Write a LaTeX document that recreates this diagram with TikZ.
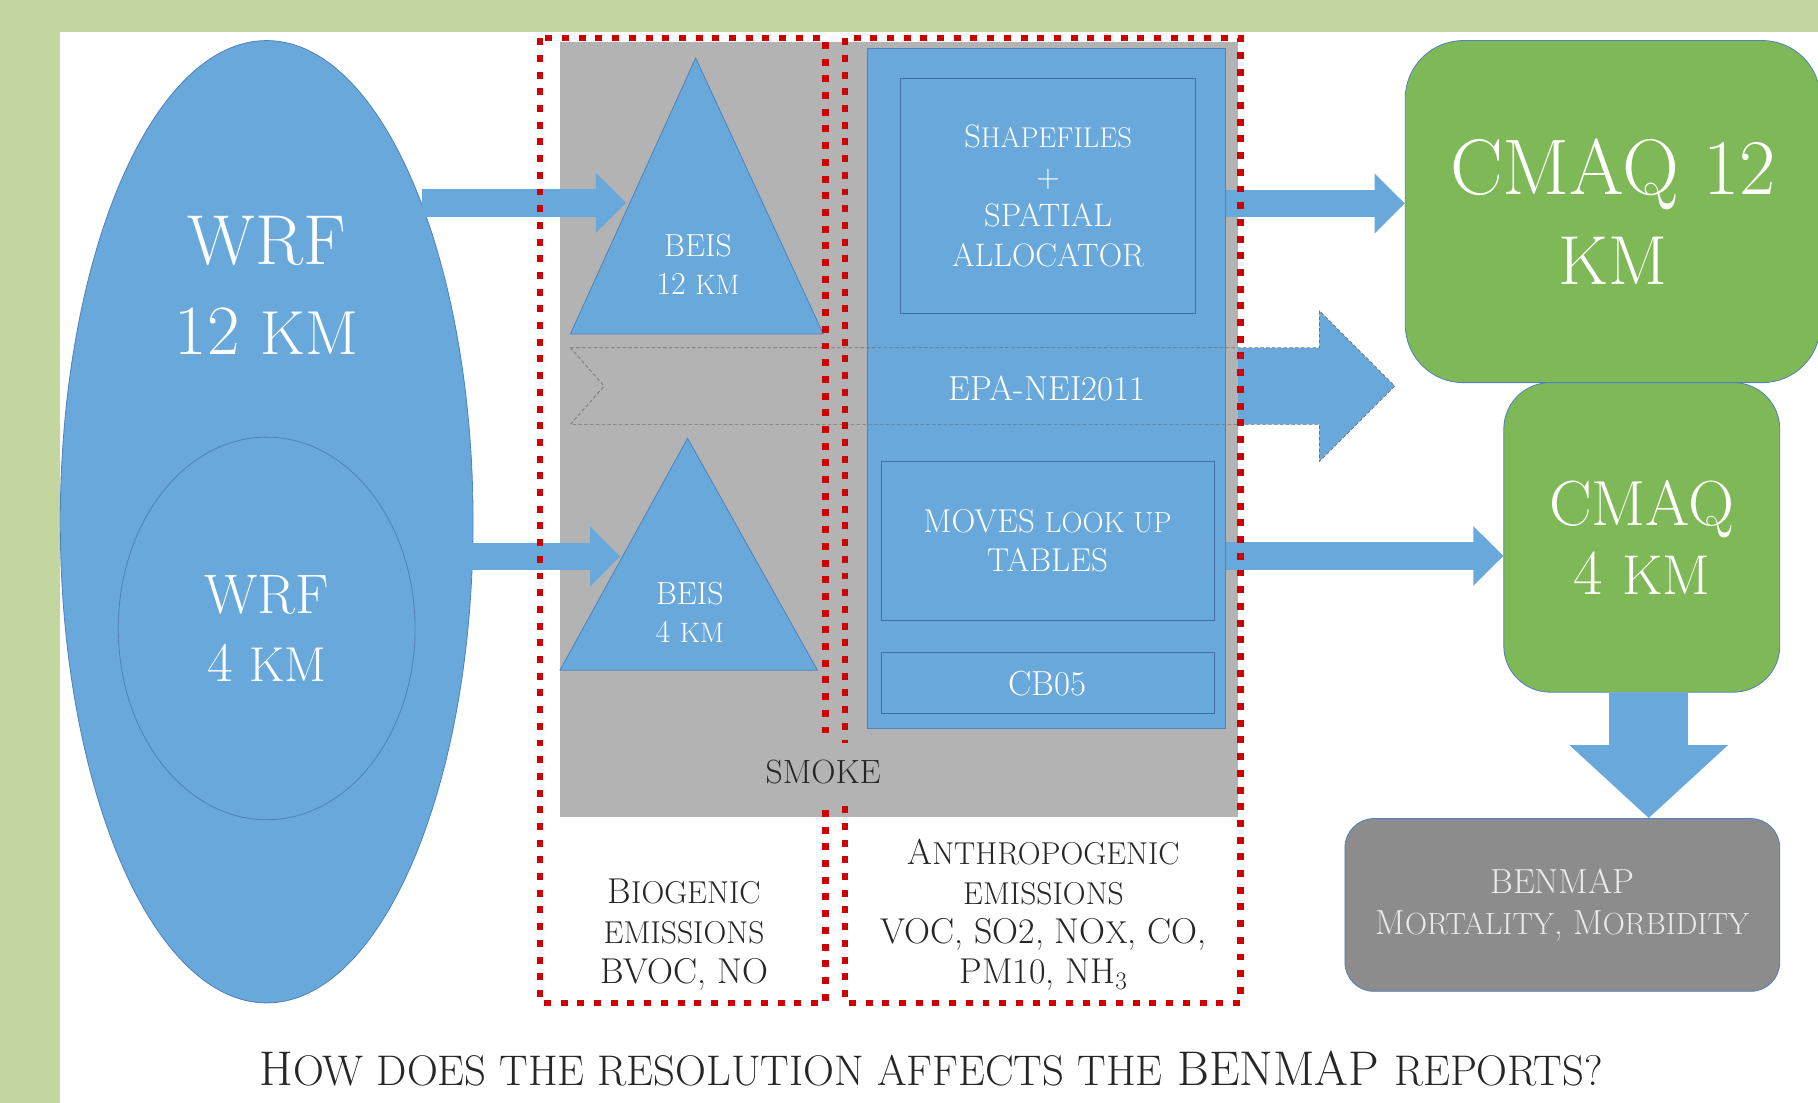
\documentclass[tikz,border=0pt]{standalone}
\usepackage{fontspec}
\usepackage{graphicx}
\usepackage{tikz}
\usetikzlibrary{arrows.meta, positioning, shapes.geometric, calc}
\definecolor{panelGreen}{HTML}{C4D6A0}
\definecolor{skyBlue}{HTML}{69A8DB}
\definecolor{edgeBlue}{HTML}{4F81BD}
\definecolor{cmaqGreen}{HTML}{7FB857}
\definecolor{smokeGrey}{HTML}{B3B3B3}
\definecolor{benGrey}{HTML}{8C8C8C}
\definecolor{dotRed}{HTML}{CC0000}
\newcommand{\lc}[1]{\scalebox{0.88}{\MakeUppercase{#1}}}
\newcommand{\epashape}{(492,300) -- (1138,300) -- (1138,268) -- (1203,333) -- (1138,398) -- (1138,366) -- (492,366) -- (521,333) -- cycle}

\begin{document}
\begin{tikzpicture}[x=1pt, y=-1pt,
    blk/.style={draw=edgeBlue, line width=0.7pt, fill=skyBlue},
    inbox/.style={blk, draw=edgeBlue!85!black, text=white, align=center, inner sep=0pt},
    cmaq/.style={draw=edgeBlue, line width=0.7pt, fill=cmaqGreen, text=white, align=center, inner sep=0pt},
    wtxt/.style={text=white, align=center},
    ktxt/.style={text=black!85, align=center},
    fat/.style={line width=24pt, skyBlue, -{Triangle[length=26pt, width=50pt]}},
    bigfat/.style={line width=68pt, skyBlue, -{Triangle[length=63pt, width=133pt]}},
    reddot/.style={draw=dotRed, line width=5.5pt, dash pattern=on 6pt off 8.4pt}
]
  \useasboundingbox (0,0) rectangle (1568,951);
  \fill[panelGreen] (0,0) rectangle (1568,951);
  \fill[white] (52,28) rectangle (1568,951);

  \fill[skyBlue] \epashape;
  \fill[smokeGrey] (483,36) rectangle (1068,705);

  \node[blk, ellipse, minimum width=356pt, minimum height=830pt] (wrf12) at (230,450) {};
  \node[wtxt, font=\fontsize{61}{77}\selectfont] (wrf12txt) at (230,246) {WRF\\12 \lc{km}};
  \node[blk, ellipse, minimum width=256pt, minimum height=330pt, wtxt,
        font=\fontsize{48}{58}\selectfont] (wrf4) at (230,542) {WRF\\4 \lc{km}};

  \path[blk] (600,50) -- (710,288) -- (492,288) -- cycle;
  \path[blk] (593,378) -- (705,578) -- (483,578) -- cycle;
  \node[wtxt, font=\fontsize{27.5}{33}\selectfont] (beis12) at (602,228) {BEIS\\12 \lc{km}};
  \node[wtxt, font=\fontsize{27.5}{33}\selectfont] (beis4) at (595,528) {BEIS\\4 \lc{km}};
  \coordinate (tip12) at (540,175);
  \coordinate (tip4) at (535,480);

  \node[blk, minimum width=309pt, minimum height=586pt, inner sep=0pt] (anthro) at (902.5,335) {};
  \node[inbox, minimum width=254pt, minimum height=202pt, font=\fontsize{28}{34}\selectfont]
      (shp) at (904,169) {S\lc{hapefiles}\\+\\SPATIAL\\ALLOCATOR};
  \node[wtxt, font=\fontsize{30}{34}\selectfont] (epa) at (903,335) {EPA-NEI2011};
  \node[inbox, minimum width=287pt, minimum height=137pt, font=\fontsize{28.5}{34}\selectfont]
      (moves) at (903.5,466.5) {MOVES \lc{look up}\\TABLES};
  \node[inbox, minimum width=287pt, minimum height=53pt, below=27pt of moves,
        font=\fontsize{30}{34}\selectfont] (cb05) {CB05};
  \draw[densely dashed, draw=black!55, line width=0.6pt] \epashape;

  \node[cmaq, rounded corners=50pt, minimum width=358pt, minimum height=295pt,
        font=\fontsize{68}{78}\selectfont] (cmaq12) at (1391,182.5) {CMAQ 12\\\lc{km}};
  \node[cmaq, rounded corners=40pt, minimum width=238pt, minimum height=267pt,
        font=\fontsize{55}{60}\selectfont] (cmaq4) at (1416,463.5) {CMAQ\\4 \lc{km}};
  \node[cmaq, fill=benGrey, text=white!92!black, rounded corners=25pt, minimum width=375pt,
        minimum height=149pt, font=\fontsize{30}{35}\selectfont] (benmap) at (1347.5,780.5)
        {BENMAP\\M\lc{ortality}, M\lc{orbidity}};

  \coordinate (c12in) at ([yshift=7pt]cmaq12.west);
  \coordinate (c4in) at ([yshift=-16pt]cmaq4.west);
  \draw[fat] (wrf12.64 |- tip12) -- (tip12);
  \draw[fat] (wrf4.east |- tip4) -- (tip4);
  \draw[fat] (anthro.east |- c12in) -- (c12in);
  \draw[fat] (anthro.east |- c4in) -- (c4in);
  \draw[bigfat] ([xshift=6pt]cmaq4.south) -- ([xshift=6pt]cmaq4.south |- benmap.north);

  \draw[reddot] (466,33) rectangle (712,865);
  \draw[reddot] (729,33) rectangle (1070,865);

  \node[ktxt, fill=smokeGrey, minimum height=50pt, font=\fontsize{29}{32}\selectfont] (smoke) at (710,666) {SMOKE};
  \node[ktxt, font=\fontsize{31}{34.5}\selectfont] (bio) at (590,806) {B\lc{iogenic}\\\lc{emissions}\\BVOC, NO};
  \node[ktxt, font=\fontsize{31}{34}\selectfont] (anth) at (900,789)
      {A\lc{nthropogenic}\\\lc{emissions}\\VOC, SO2, NO\lc{x}, CO,\\PM10, NH\textsubscript{3}};
  \node[ktxt, font=\fontsize{42}{48}\selectfont] (title) at (803,922)
      {H\lc{ow does the resolution affects the} BENMAP \lc{reports?}};
\end{tikzpicture}
\end{document}
